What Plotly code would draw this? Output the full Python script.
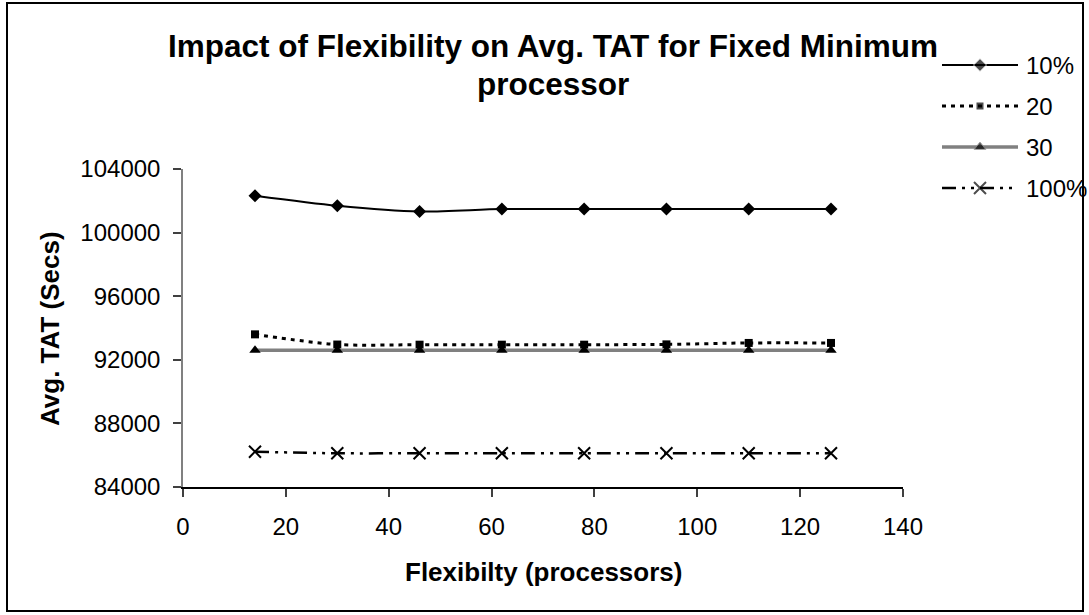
import plotly.graph_objects as go

# Flexibility (processors) on the x axis
flexibility = [14, 30, 46, 62, 78, 94, 110, 126]

# Average turnaround time (seconds) for each fixed-minimum setting
series_names = ["10%", "20", "30", "100%"]
tat_10 = [102320, 101690, 101330, 101480, 101480, 101480, 101480, 101480]
tat_20 = [93600, 92960, 92950, 92950, 92950, 92970, 93060, 93060]
tat_30 = [92600, 92600, 92600, 92600, 92600, 92600, 92600, 92600]
tat_100 = [86220, 86120, 86120, 86120, 86120, 86120, 86120, 86120]

y_ticks = [84000, 88000, 92000, 96000, 100000, 104000]
x_ticks = [0, 20, 40, 60, 80, 100, 120, 140]

title_lines = ["Impact of Flexibility on Avg. TAT for Fixed Minimum", "processor"]

W, H = 1089, 615
FONT = "Liberation Sans, Arial, sans-serif"

# plot area in pixels
PX0, PX1 = 183, 903
PY_TOP, PY_BOT = 169, 487

styles = [
    dict(line=dict(color="black", width=2, dash="solid"),
         marker=dict(symbol="diamond", size=10, color="black")),
    dict(line=dict(color="black", width=3, dash="4px,5px"),
         marker=dict(symbol="square", size=8, color="black")),
    dict(line=dict(color="#808080", width=3.5, dash="solid"),
         marker=dict(symbol="triangle-up", size=10, color="black")),
    dict(line=dict(color="black", width=2.5, dash="14px,6px,3px,6px,3px,6px"),
         marker=dict(symbol="x-thin-open", size=12, color="black",
                     line=dict(color="black", width=2))),
]

fig = go.Figure()
for name, vals, st in zip(series_names, [tat_10, tat_20, tat_30, tat_100], styles):
    fig.add_trace(go.Scatter(
        x=flexibility, y=vals, name=name, mode="lines+markers",
        line=dict(shape="spline", smoothing=0.8, **st["line"]),
        marker=st["marker"], showlegend=False, cliponaxis=False,
        xaxis="x", yaxis="y",
    ))

# legend drawn on its own small axes: one row per series
LEG_X0, LEG_X1 = 942, 1018
LEG_ROW0, LEG_STEP = 65, 41
for i, (name, st) in enumerate(zip(series_names, styles)):
    mk = dict(st["marker"])
    mk["size"] = [0, st["marker"]["size"], 0]
    fig.add_trace(go.Scatter(
        x=[0, 1, 2], y=[i, i, i], mode="lines+markers",
        line=st["line"], marker=mk, showlegend=False, cliponaxis=False,
        hoverinfo="skip", xaxis="x2", yaxis="y2",
    ))
    fig.add_annotation(
        x=2, y=i, xref="x2", yref="y2", text=name, showarrow=False,
        xanchor="left", yanchor="middle", xshift=6,
        font=dict(family=FONT, size=24, color="black"),
    )

n_rows = len(series_names)
leg_top = LEG_ROW0 - LEG_STEP / 2
leg_bot = LEG_ROW0 + LEG_STEP * (n_rows - 0.5)

fig.update_layout(
    width=W, height=H,
    margin=dict(l=0, r=0, t=0, b=0),
    paper_bgcolor="white", plot_bgcolor="white",
    font=dict(family=FONT, size=24, color="black"),
    xaxis=dict(
        domain=[PX0 / W, PX1 / W], range=[0, 140],
        tickvals=x_ticks, ticktext=[str(v) for v in x_ticks],
        showgrid=False, zeroline=False,
        showline=True, linecolor="black", linewidth=1.5,
        ticks="outside", ticklen=8, tickwidth=1.5, tickcolor="#404040",
        ticklabelstandoff=9, automargin=False,
        tickfont=dict(family=FONT, size=24, color="black"),
    ),
    yaxis=dict(
        domain=[1 - PY_BOT / H, 1 - PY_TOP / H], range=[84000, 104000],
        tickvals=y_ticks, ticktext=[str(v) for v in y_ticks],
        showgrid=False, zeroline=False,
        showline=True, linecolor="#808080", linewidth=1.5,
        ticks="outside", ticklen=8, tickwidth=1.5, tickcolor="#404040",
        ticklabelstandoff=8, automargin=False,
        tickfont=dict(family=FONT, size=24, color="black"),
    ),
    xaxis2=dict(
        domain=[LEG_X0 / W, LEG_X1 / W], range=[0, 2], anchor="y2",
        visible=False, fixedrange=True,
    ),
    yaxis2=dict(
        domain=[1 - leg_bot / H, 1 - leg_top / H],
        range=[n_rows - 0.5, -0.5], anchor="x2",
        visible=False, fixedrange=True,
    ),
)

# chart title, two centred lines
for text, yc in zip(title_lines, [46, 84]):
    fig.add_annotation(
        x=553 / W, y=1 - yc / H, xref="paper", yref="paper",
        text=f"<b>{text}</b>", showarrow=False,
        xanchor="center", yanchor="middle",
        font=dict(family=FONT, size=31.5, color="black"),
    )

# axis titles
fig.add_annotation(
    x=(PX0 + PX1) / 2 / W, y=1 - 572 / H, xref="paper", yref="paper",
    text="<b>Flexibilty (processors)</b>", showarrow=False,
    xanchor="center", yanchor="middle",
    font=dict(family=FONT, size=26, color="black"),
)
fig.add_annotation(
    x=50 / W, y=1 - (PY_TOP + PY_BOT) / 2 / H, xref="paper", yref="paper",
    text="<b>Avg. TAT (Secs)</b>", showarrow=False, textangle=-90,
    xanchor="center", yanchor="middle",
    font=dict(family=FONT, size=26, color="black"),
)

# chart frame
fig.add_shape(
    type="rect", xref="paper", yref="paper",
    x0=7 / W, x1=1083 / W, y0=1 - 611 / H, y1=1 - 3 / H,
    line=dict(color="black", width=2), fillcolor="rgba(0,0,0,0)",
    layer="below",
)

fig.write_html("out.html")
